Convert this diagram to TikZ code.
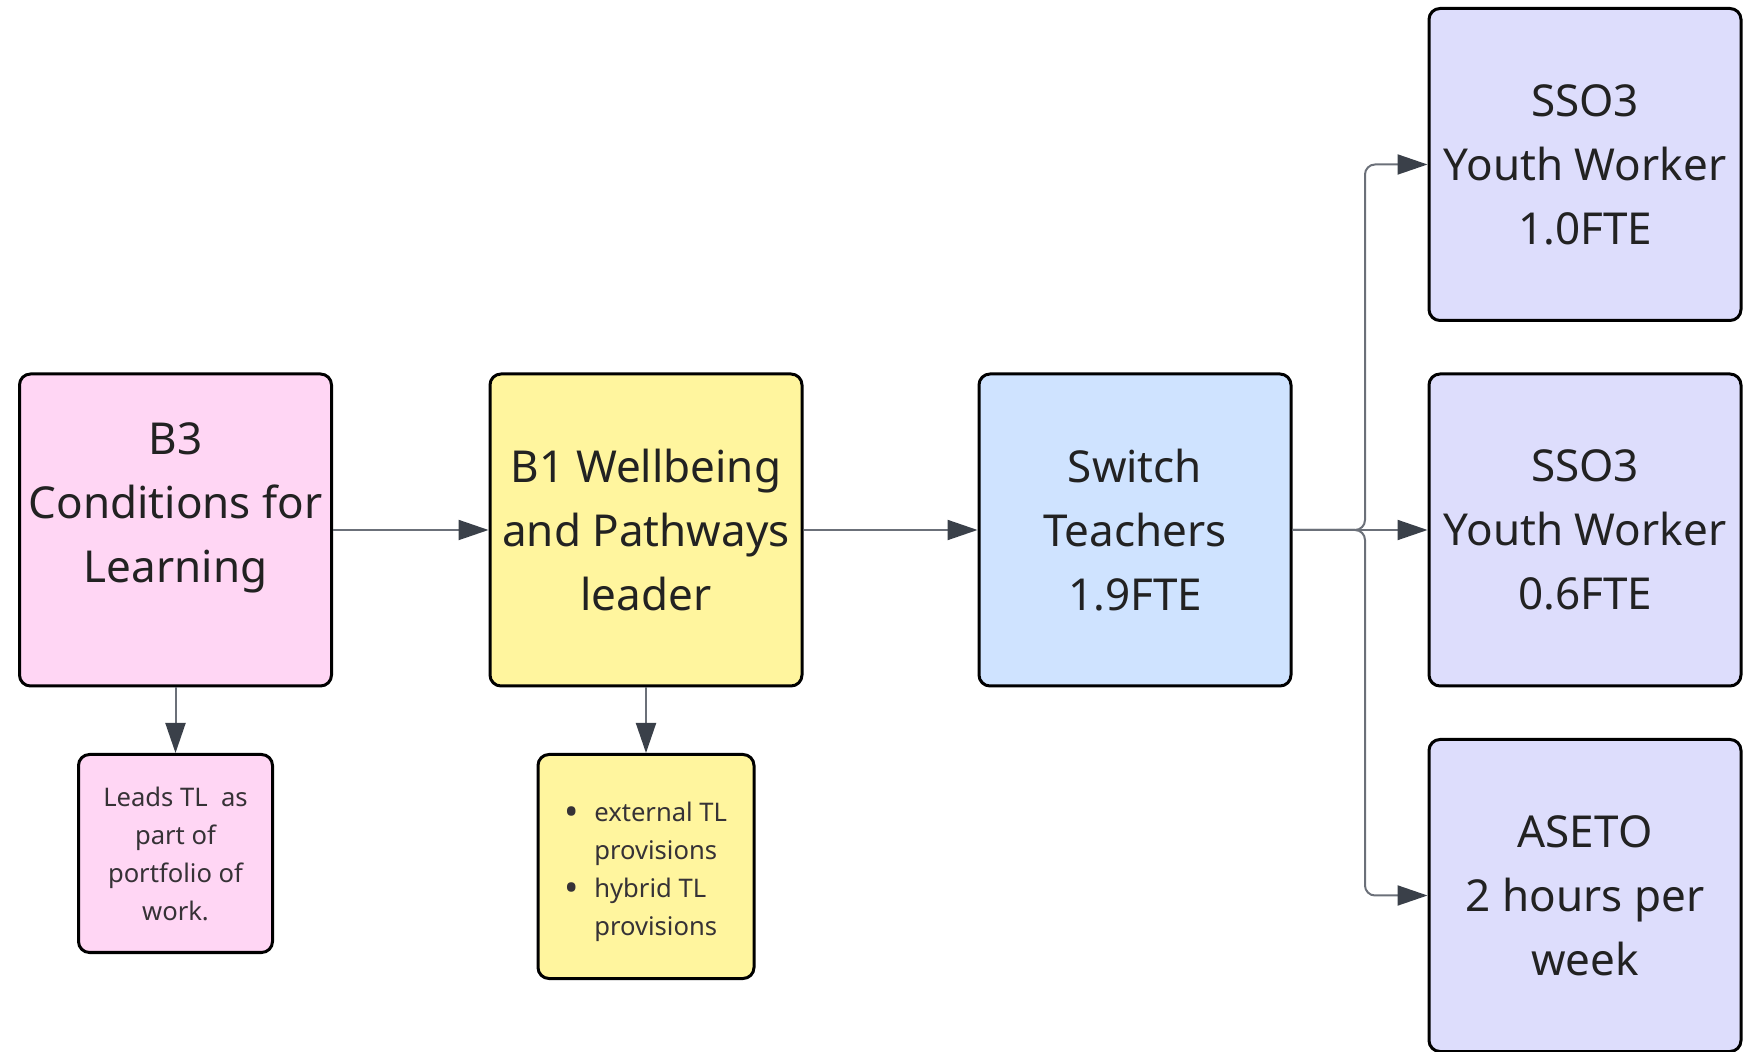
\documentclass[tikz,border=0pt]{standalone}
\usepackage{fontspec}
\setmainfont{Noto Sans}
\usetikzlibrary{arrows.meta, positioning, calc}
\definecolor{pinkfill}{HTML}{FFD6F4}
\definecolor{yellowfill}{HTML}{FFF59E}
\definecolor{bluefill}{HTML}{CFE3FF}
\definecolor{lilacfill}{HTML}{DDDDFC}
\definecolor{linkgrey}{HTML}{6B7079}
\definecolor{tipgrey}{HTML}{3A4049}
\definecolor{inkgrey}{HTML}{222222}
\definecolor{smallink}{HTML}{363236}
\newcommand{\bigdot}{\raisebox{-1.8pt}{\scalebox{1.5}{\textbullet}}}

\begin{document}
\begin{tikzpicture}[x=0.5pt,y=-0.5pt,
  bigbox/.style={draw=black, line width=1.5pt, rounded corners=5.5pt,
    minimum width=156pt, minimum height=156pt, inner sep=0pt,
    align=center, text=inkgrey, font=\fontsize{22}{32}\selectfont},
  smallbox/.style={draw=black, line width=1.5pt, rounded corners=5.5pt,
    inner sep=0pt, align=center, text=smallink,
    font=\fontsize{12.8}{19}\selectfont},
  link/.style={draw=linkgrey, line width=1pt, rounded corners=5pt,
    -{Triangle[length=15pt,width=10pt,color=tipgrey]}}]
\useasboundingbox (0,0) rectangle (1757,1052);

% Main chain
\node[bigbox, fill=pinkfill] (b3) at (175.5,530) {B3\\Conditions for\\Learning\\[-5pt]\mbox{}};
\node[bigbox, fill=yellowfill] (b1) at (646,530) {B1 Wellbeing\\and Pathways\\leader};
\node[bigbox, fill=bluefill] (sw) at (1135,530) {Switch\\Teachers\\1.9FTE};

% Staff boxes
\node[bigbox, fill=lilacfill] (sso1) at (1585,164.5) {SSO3\\Youth Worker\\1.0FTE};
\node[bigbox, fill=lilacfill] (sso2) at (1585,530) {SSO3\\Youth Worker\\0.6FTE};
\node[bigbox, fill=lilacfill] (aseto) at (1585,895.5) {ASETO\\2 hours per\\week};

% Notes below
\node[smallbox, fill=pinkfill, minimum width=97pt, minimum height=99pt] (leads) at (175.5,853.5)
  {Leads TL\ \ as\\part of\\portfolio of\\work.};
\node[smallbox, fill=yellowfill, minimum width=108pt, minimum height=112pt] (tl) at (646,866.5)
  {\raisebox{-2.2pt}[\height][\depth]{\begin{tabular}{@{}c@{\hspace{7.5pt}}l@{}}
   \bigdot & external TL\\
           & provisions\\
   \bigdot & hybrid TL\\
           & provisions
   \end{tabular}}};

\coordinate (split) at (1365,530);

\draw[link] (b3) -- (b1);
\draw[link] (b1) -- (sw);
\draw[link] (b3.south) -- (leads.north);
\draw[link] (b1.south) -- (tl.north);
\draw[link] (sw.east) -- (split) |- (sso1.west);
\draw[link] (sw.east) -- (sso2.west);
\draw[link] (sw.east) -- (split) |- (aseto.west);
\end{tikzpicture}
\end{document}
